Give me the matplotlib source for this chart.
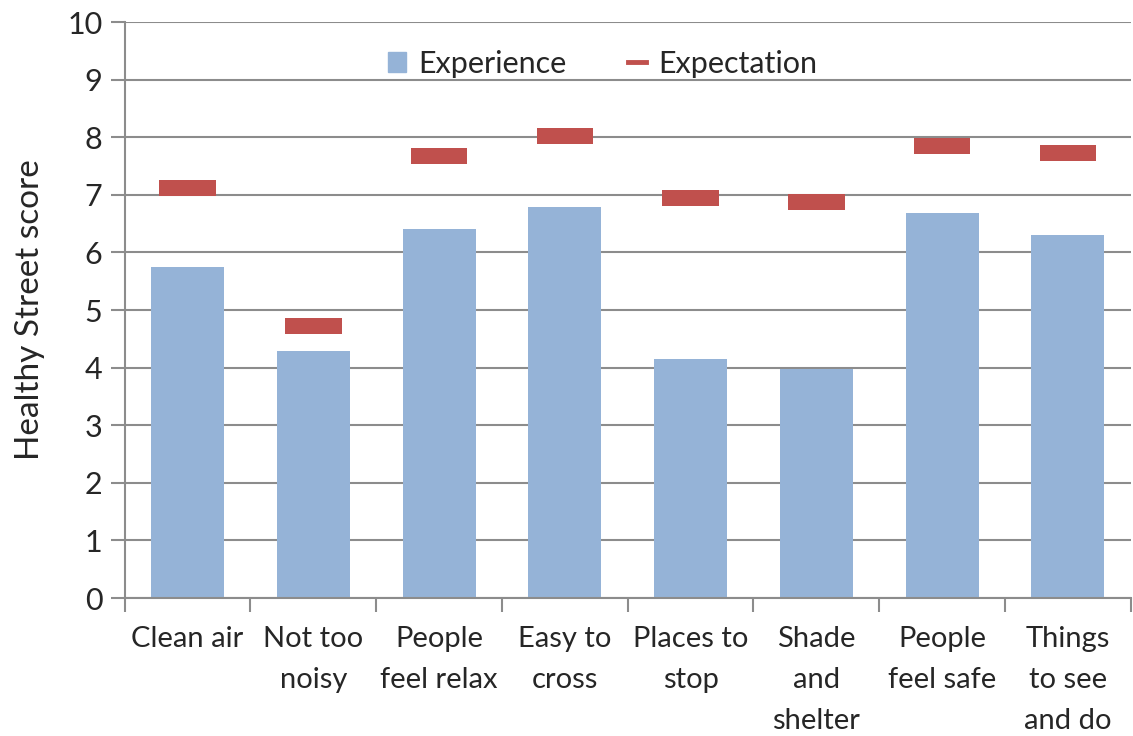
import matplotlib.pyplot as plt
import numpy as np
from matplotlib.patches import Patch
from matplotlib.lines import Line2D

# Healthy Street score: experience vs expectation
categories = ['Clean air', 'Not too\nnoisy', 'People\nfeel relax', 'Easy to\ncross',
              'Places to\nstop', 'Shade\nand\nshelter', 'People\nfeel safe', 'Things\nto see\nand do']
experience = [5.75, 4.29, 6.41, 6.79, 4.15, 3.98, 6.68, 6.30]
expectation = [7.12, 4.72, 7.67, 8.02, 6.94, 6.88, 7.85, 7.73]

plt.rcParams['font.family'] = ['Lato', 'DejaVu Sans']
text_col = '#262626'
grid_col = '#8c8c8c'

fig = plt.figure(figsize=(11.33, 7.36), dpi=100)
ax = fig.add_axes([0.110, 0.1875, 0.888, 0.7825])

x = np.arange(len(categories))
ax.bar(x, experience, width=0.58, color='#95b3d7', zorder=2)

# expectation drawn as thick short dashes centred on the value
dash_h = 0.28
ax.bar(x, [dash_h] * len(x), bottom=np.array(expectation) - dash_h / 2, width=0.45,
       color='#c0504d', zorder=3)

ax.set_xlim(-0.5, len(categories) - 0.5)
ax.set_ylim(0, 10)
ax.set_yticks(range(0, 11))
ax.grid(axis='y', color=grid_col, linewidth=1.5, zorder=0)
ax.set_axisbelow(True)

ax.set_xticks(x)
ax.set_xticklabels(categories, fontsize=21, color=text_col, linespacing=1.72)
ax.set_xticks(np.arange(-0.5, len(categories)), minor=True)
ax.tick_params(axis='x', which='major', length=0, pad=20)
ax.tick_params(axis='x', which='minor', length=10, width=1.5, color=grid_col, direction='out')
ax.tick_params(axis='y', length=10, width=1.5, color=grid_col, direction='out',
               labelsize=22, labelcolor=text_col, pad=6)

for s in ['top', 'right']:
    ax.spines[s].set_visible(False)
for s in ['left', 'bottom']:
    ax.spines[s].set_color(grid_col)
    ax.spines[s].set_linewidth(1.5)

ax.set_ylabel('Healthy Street score', fontsize=24, color=text_col, labelpad=16)

handles = [Patch(color='#95b3d7', label='Experience'),
           Line2D([0], [0], color='#c0504d', linewidth=3.5, label='Expectation')]
ax.legend(handles=handles, loc='upper center', bbox_to_anchor=(0.475, 1.0), ncol=2,
          frameon=False, fontsize=22, handlelength=0.6, handleheight=0.6,
          handletextpad=0.4, columnspacing=2.0, labelcolor=text_col)

fig.savefig('out.png', dpi=100)
